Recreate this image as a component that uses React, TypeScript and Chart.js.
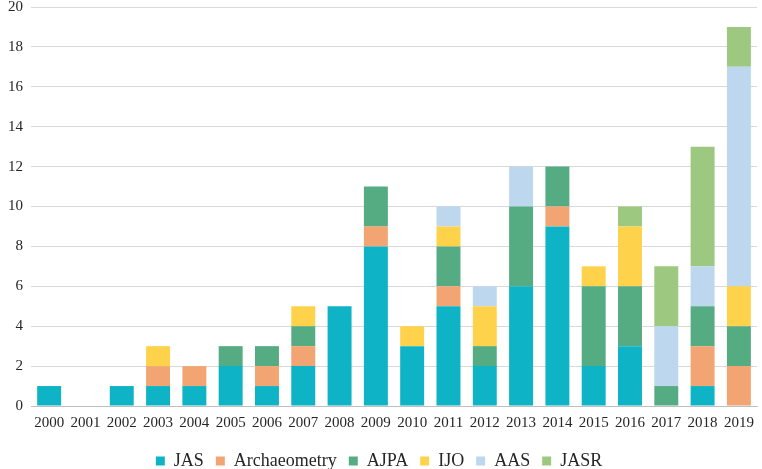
import React, { useEffect, useRef } from "react";
import { Chart, registerables } from "chart.js";
Chart.register(...registerables);

const years = ["2000","2001","2002","2003","2004","2005","2006","2007","2008","2009","2010","2011","2012","2013","2014","2015","2016","2017","2018","2019"];
const jas =          [1,0,1,1,1,2,1,2,5,8,3,5,2,6,9,2,3,0,1,0];
const archaeometry = [0,0,0,1,1,0,1,1,0,1,0,1,0,0,1,0,0,0,2,2];
const ajpa =         [0,0,0,0,0,1,1,1,0,2,0,2,1,4,2,4,3,1,2,2];
const ijo =          [0,0,0,1,0,0,0,1,0,0,1,1,2,0,0,1,3,0,0,2];
const aas =          [0,0,0,0,0,0,0,0,0,0,0,1,1,2,0,0,0,3,2,11];
const jasr =         [0,0,0,0,0,0,0,0,0,0,0,0,0,0,0,0,1,3,6,2];

const seriesNames = ["JAS","Archaeometry","AJPA","IJO","AAS","JASR"];
const seriesColors = ["#0FB3C6","#F2A572","#56AC82","#FFD24C","#BDD7EE","#9CC880"];
const seriesData = [jas, archaeometry, ajpa, ijo, aas, jasr];

export default function App() {
  const ref = useRef<HTMLCanvasElement>(null);
  useEffect(() => {
    if (!ref.current) return;
    const font = { family: "'Liberation Serif', 'Times New Roman', serif", size: 15 };
    const chart = new Chart(ref.current, {
      type: "bar",
      data: {
        labels: years,
        datasets: seriesNames.map((n, i) => ({
          label: n,
          data: seriesData[i],
          backgroundColor: seriesColors[i],
          borderWidth: 0,
          categoryPercentage: 1,
          barPercentage: 0.66,
        })),
      },
      options: {
        animation: false,
        responsive: false,
        maintainAspectRatio: false,
        layout: { padding: { left: 0, right: 4, top: 0, bottom: 0 } },
        plugins: {
          legend: {
            position: "bottom",
            labels: { font: { ...font, size: 18 }, color: "#262626", boxWidth: 9, boxHeight: 9, padding: 12 },
          },
          tooltip: { enabled: false },
        },
        scales: {
          x: {
            stacked: true,
            grid: { display: false, drawTicks: false },
            border: { color: "#bfbfbf" },
            ticks: { font, color: "#262626", padding: 8, maxRotation: 0, autoSkip: false },
          },
          y: {
            stacked: true,
            min: 0,
            max: 20,
            grid: { color: "#d9d9d9", drawTicks: false },
            border: { display: false },
            ticks: { stepSize: 2, font, color: "#262626", padding: 8 },
          },
        },
      },
    });
    return () => chart.destroy();
  }, []);
  return (
    <div style={{ position: "fixed", left: 0, top: 0, width: 762, height: 469, background: "#fff", overflow: "hidden" }}>
      <canvas ref={ref} width={762} height={490} style={{ position: "absolute", left: 0, top: -10, width: 762, height: 490 }} />
    </div>
  );
}
